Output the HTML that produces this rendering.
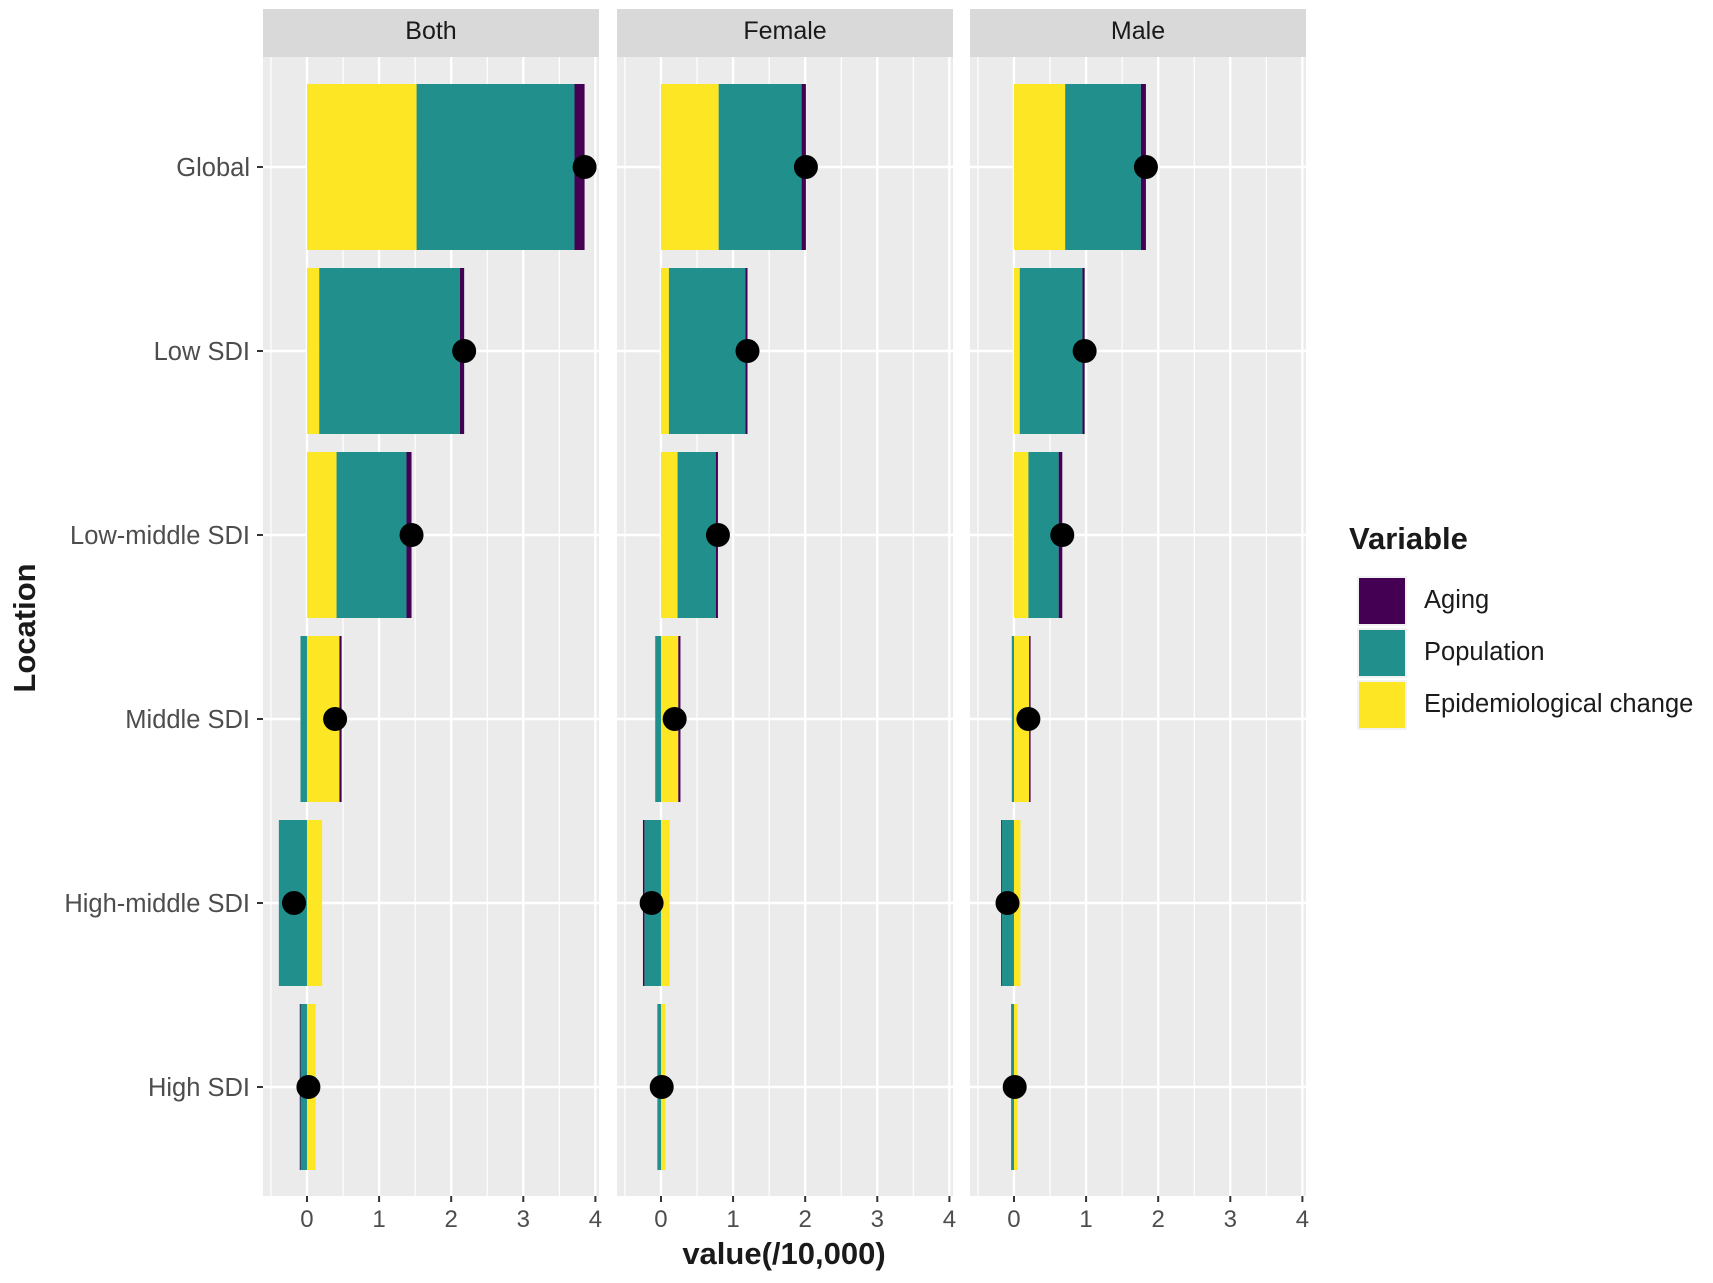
<!DOCTYPE html>
<html><head><meta charset="utf-8"><style>
html,body{margin:0;padding:0;background:#fff}
svg{display:block;font-family:"Liberation Sans",Arial,sans-serif}
</style></head><body>
<svg id="chart" width="1713" height="1283" viewBox="0 0 1713 1283" xmlns="http://www.w3.org/2000/svg"></svg>
<script>
const categories = ["Global","Low SDI","Low-middle SDI","Middle SDI","High-middle SDI","High SDI"];
const panels = ["Both","Female","Male"];
const seriesNames = ["Aging","Population","Epidemiological change"];
const xTicks = [0,1,2,3,4];
const agingBoth = [0.14,0.06,0.07,0.03,0.00,-0.01];
const popBoth = [2.19,1.95,0.97,-0.09,-0.39,-0.09];
const epiBoth = [1.52,0.17,0.41,0.45,0.21,0.12];
const agingFemale = [0.06,0.03,0.03,0.03,-0.02,0.00];
const popFemale = [1.15,1.06,0.53,-0.08,-0.23,-0.05];
const epiFemale = [0.80,0.11,0.23,0.24,0.12,0.06];
const agingMale = [0.07,0.03,0.05,0.02,-0.01,0.00];
const popMale = [1.05,0.87,0.42,-0.03,-0.17,-0.04];
const epiMale = [0.71,0.08,0.20,0.21,0.09,0.05];

const data = {Both:[agingBoth,popBoth,epiBoth],Female:[agingFemale,popFemale,epiFemale],Male:[agingMale,popMale,epiMale]};
const colors = {"Aging":"#440154","Population":"#21908C","Epidemiological change":"#FDE725"};
const svg = document.getElementById('chart');
const NS = "http://www.w3.org/2000/svg";
function mk(tag, attrs, parent){const e=document.createElementNS(NS,tag);for(const k in attrs)e.setAttribute(k,attrs[k]);(parent||svg).appendChild(e);return e;}
const panelLefts = [263,617,970];
const panelW = 336, plotTop = 57, plotBottom = 1196;
const xMin = -0.61, xMax = 4.05;
function xScale(p, v){return panelLefts[p] + (v - xMin)/(xMax - xMin)*panelW;}
function yScale(i){return 167 + i*184;}
const barH = 166;

panels.forEach((pn,p)=>{
  const g = mk('g',{});
  
  
  const bg = mk('rect',{x:panelLefts[p],y:plotTop,width:panelW,height:plotBottom-plotTop,fill:'#EBEBEB'},g);
  
  
  const strip = mk('rect',{x:panelLefts[p],y:9,width:panelW,height:48,fill:'#D9D9D9'},g);
  
  
  const st = mk('text',{x:panelLefts[p]+panelW/2,y:39,'text-anchor':'middle','font-size':25,fill:'#1A1A1A'},g);
  st.textContent = pn;
  
  
  for(let v=-0.5; v<=4.01; v+=1){
    const l=mk('line',{x1:xScale(p,v),x2:xScale(p,v),y1:plotTop,y2:plotBottom,stroke:'#fff','stroke-width':1.2},g);
    
    
  }
  xTicks.forEach(t=>{
    const l=mk('line',{x1:xScale(p,t),x2:xScale(p,t),y1:plotTop,y2:plotBottom,stroke:'#fff','stroke-width':2.4},g);
    
    
    const tk=mk('line',{x1:xScale(p,t),x2:xScale(p,t),y1:plotBottom,y2:plotBottom+6,stroke:'#333','stroke-width':2},g);
    
    
    const tl=mk('text',{x:xScale(p,t),y:1227,'text-anchor':'middle','font-size':24,fill:'#4D4D4D'},g);
    tl.textContent=t;
    
    
  });
  categories.forEach((c,i)=>{
    const l=mk('line',{x1:panelLefts[p],x2:panelLefts[p]+panelW,y1:yScale(i),y2:yScale(i),stroke:'#fff','stroke-width':2.4},g);
    
    
  });
  const order=[2,1,0];
  categories.forEach((c,i)=>{
    let pos=0,neg=0,sum=0;
    order.forEach(s=>{
      const v=data[pn][s][i]; sum+=v;
      let a,b;
      if(v>=0){a=pos;b=pos+v;pos=b;}else{a=neg+v;b=neg;neg=a;}
      const r=mk('rect',{x:xScale(p,a),y:yScale(i)-barH/2,width:Math.max(0,xScale(p,b)-xScale(p,a)),height:barH,fill:colors[seriesNames[s]]},g);
      
      
    });
    const d=mk('circle',{cx:xScale(p,sum),cy:yScale(i),r:12,fill:'#000'},g);
    
    
  });
});
categories.forEach((c,i)=>{
  const tk=mk('line',{x1:257,x2:263,y1:yScale(i),y2:yScale(i),stroke:'#333','stroke-width':2});
  
  
  const t=mk('text',{x:250,y:yScale(i)+9,'text-anchor':'end','font-size':25.5,fill:'#4D4D4D'});
  t.textContent=c;
  
  
});
const xt=mk('text',{x:784,y:1264,'text-anchor':'middle','font-size':31,'font-weight':'bold',fill:'#1A1A1A'});
xt.textContent='value(/10,000)';


const yt=mk('text',{x:0,y:0,'text-anchor':'middle','font-size':31,'font-weight':'bold',fill:'#1A1A1A',transform:'translate(35,628) rotate(-90)'});
yt.textContent='Location';


const lt=mk('text',{x:1349,y:549,'font-size':31,'font-weight':'bold',fill:'#1A1A1A'});
lt.textContent='Variable';


seriesNames.forEach((s,k)=>{
  const y=576+k*52;
  const r=mk('rect',{x:1357,y:y,width:50,height:50,fill:'#F2F2F2'});
  
  
  const r2=mk('rect',{x:1359,y:y+2,width:46,height:46,fill:colors[s]});
  
  
  const t=mk('text',{x:1424,y:y+32,'font-size':25.5,fill:'#1A1A1A'});
  t.textContent=s;
  
  
});
</script>
</body></html>
